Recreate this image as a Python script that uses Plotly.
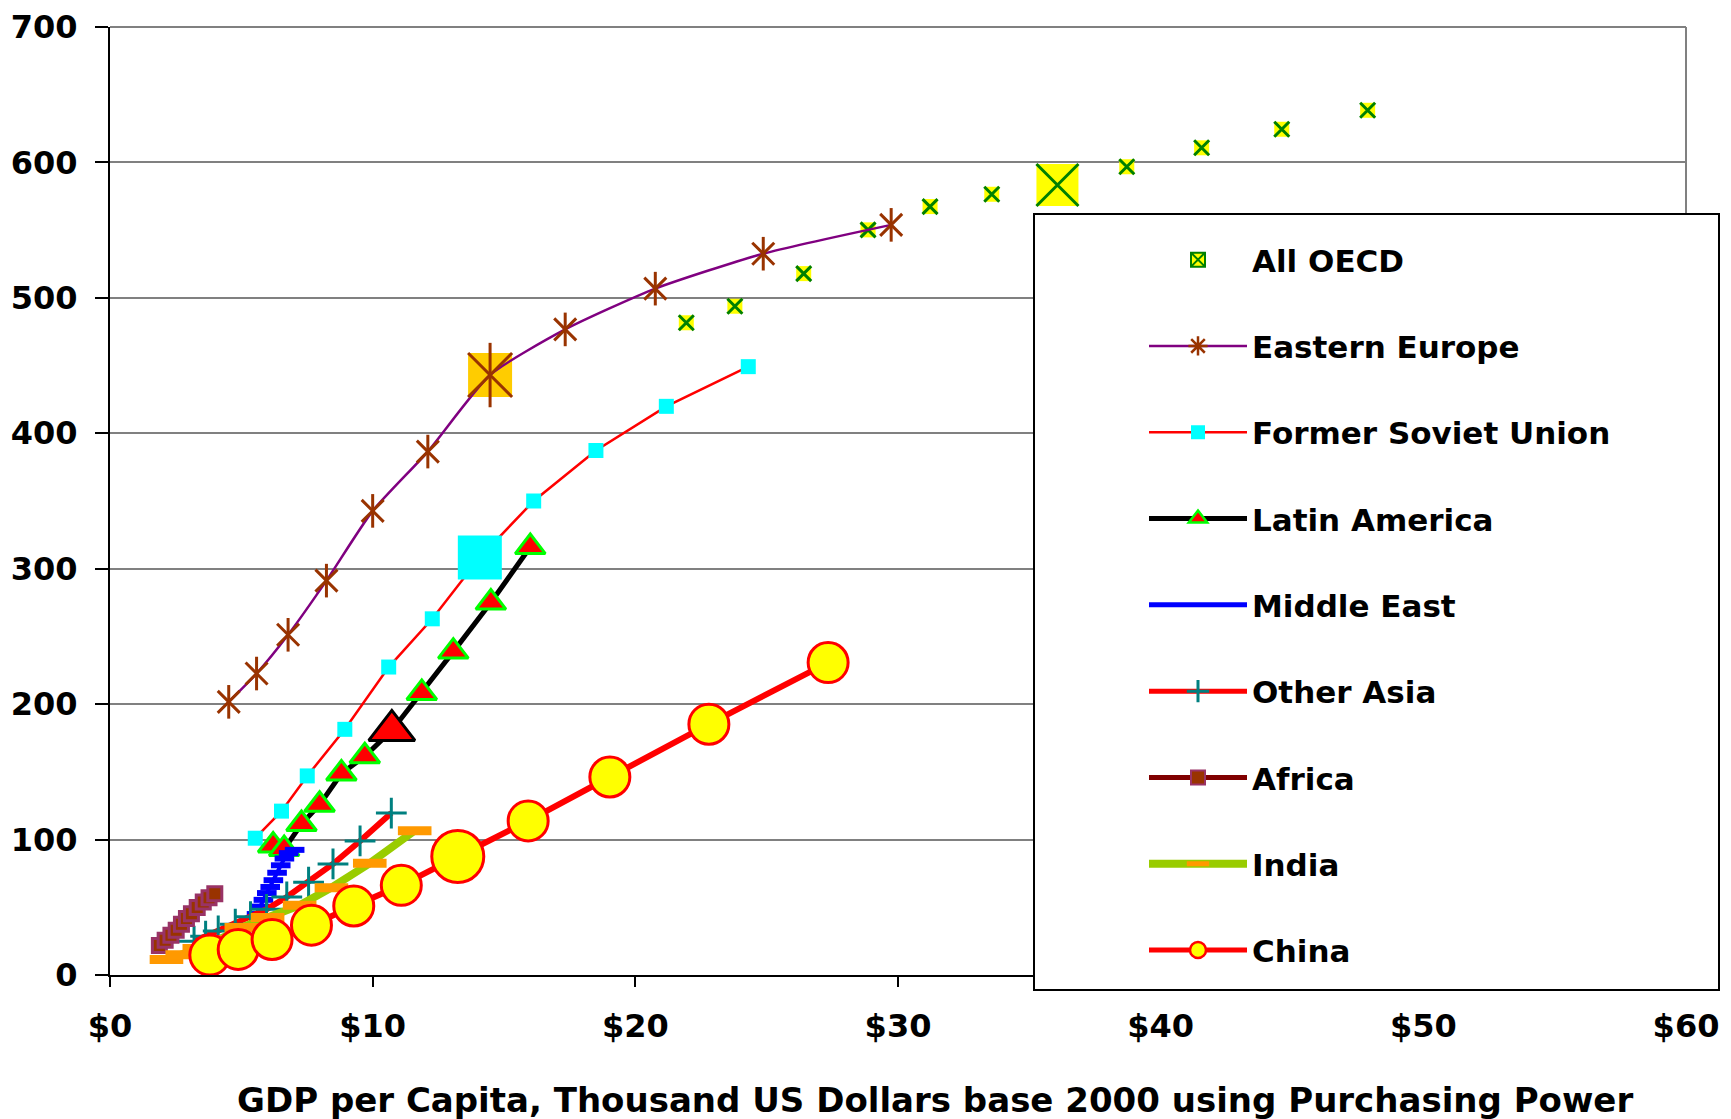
import plotly.graph_objects as go

# ---------------- data ----------------
series_names = ["All OECD", "Eastern Europe", "Former Soviet Union", "Latin America",
                "Middle East", "Other Asia", "Africa", "India", "China"]

oecd_x = [21.94, 23.79, 26.41, 28.86, 31.22, 33.57, 36.07, 38.71, 41.56, 44.61, 47.88]
oecd_y = [481.6, 493.8, 517.9, 550.2, 567.4, 576.5, 583.3, 596.8, 610.8, 624.5, 638.5]

ee_x = [4.52, 5.58, 6.78, 8.24, 10.0, 12.1, 14.47, 17.33, 20.76, 24.87, 29.74]
ee_y = [201.7, 222.6, 251.2, 291.2, 342.7, 386.5, 443.0, 476.7, 506.8, 532.6, 553.9]

fsu_x = [5.53, 6.53, 7.51, 8.94, 10.61, 12.27, 14.08, 16.13, 18.5, 21.18, 24.3]
fsu_y = [101.0, 121.0, 147.0, 181.4, 227.4, 263.0, 308.3, 350.0, 387.3, 419.9, 449.2]

la_x = [6.21, 6.63, 7.29, 7.98, 8.81, 9.70, 10.73, 11.87, 13.07, 14.5, 16.0]
la_y = [95.6, 93.0, 111.5, 125.7, 148.8, 161.5, 180.6, 208.3, 238.8, 275.0, 316.0]

me_x = [5.58, 5.70, 5.84, 5.97, 6.10, 6.22, 6.36, 6.50, 6.64, 6.80, 7.03]
me_y = [45.0, 50.5, 55.5, 60.5, 65.0, 70.0, 75.5, 81.0, 86.0, 90.0, 92.4]

oa_x = [3.2, 3.64, 4.12, 4.77, 5.35, 5.96, 6.73, 7.56, 8.49, 9.52, 10.71]
oa_y = [25.0, 28.7, 32.5, 37.5, 43.0, 48.5, 57.6, 68.5, 82.0, 99.0, 119.6]

af_x = [1.88, 2.10, 2.32, 2.52, 2.72, 2.91, 3.10, 3.32, 3.55, 3.77, 3.99]
af_y = [21.8, 25.7, 29.4, 33.0, 37.5, 41.7, 45.3, 49.8, 53.9, 57.0, 60.0]

in_x = [2.15, 2.75, 3.4, 4.15, 5.0, 6.0, 7.22, 8.43, 9.89, 11.6]
in_y = [11.5, 15.0, 19.5, 26.0, 35.0, 42.4, 51.5, 64.5, 82.5, 106.6]

cn_x = [3.8, 4.88, 6.17, 7.67, 9.28, 11.09, 13.24, 15.92, 19.03, 22.8, 27.34]
cn_y = [14.7, 18.9, 26.2, 36.8, 51.0, 66.2, 87.5, 113.8, 146.2, 185.2, 230.7]

x_tick_vals = [0, 10, 20, 30, 40, 50, 60]
x_tick_text = ["$0", "$10", "$20", "$30", "$40", "$50", "$60"]
y_tick_vals = [0, 100, 200, 300, 400, 500, 600, 700]
x_title = "GDP per Capita, Thousand US Dollars base 2000 using Purchasing Power"

# ---------------- style ----------------
HI = 6  # index of the highlighted point in each series
FONT = "DejaVu Sans, Liberation Sans, Arial, sans-serif"


def sizes(n, small, big):
    return [big if i == HI else small for i in range(n)]


fig = go.Figure()

# All OECD: yellow squares with green x
fig.add_trace(go.Scatter(x=oecd_x, y=oecd_y, mode="markers", showlegend=False,
                         legendgroup="g0", hoverinfo="skip",
                         marker=dict(symbol="square", color="#FFFF00", opacity=1,
                                     size=sizes(len(oecd_x), 15, 42), line=dict(width=0))))
fig.add_trace(go.Scatter(x=oecd_x, y=oecd_y, mode="markers", showlegend=False,
                         legendgroup="g0", name=series_names[0],
                         marker=dict(symbol="x-thin", color="#008000", opacity=1,
                                     size=sizes(len(oecd_x), 15, 42),
                                     line=dict(color="#008000", width=3))))

# Eastern Europe: purple line, brown six-armed stars, orange square behind the highlight
fig.add_trace(go.Scatter(x=[ee_x[HI]], y=[ee_y[HI]], mode="markers", showlegend=False,
                         legendgroup="g1", hoverinfo="skip",
                         marker=dict(symbol="square", color="#FFCC00", size=44, opacity=1,
                                     line=dict(width=0))))
fig.add_trace(go.Scatter(x=ee_x, y=ee_y, mode="lines+markers", showlegend=False,
                         legendgroup="g1", name=series_names[1],
                         line=dict(color="#800080", width=2.5, shape="spline", smoothing=0.6),
                         marker=dict(symbol="x-thin", color="#993300", opacity=1,
                                     size=sizes(len(ee_x), 22, 44),
                                     line=dict(color="#993300", width=3))))
fig.add_trace(go.Scatter(x=ee_x, y=ee_y, mode="markers", showlegend=False,
                         legendgroup="g1", hoverinfo="skip",
                         marker=dict(symbol="line-ns", color="#993300", opacity=1,
                                     size=sizes(len(ee_x), 24, 46),
                                     line=dict(color="#993300", width=3))))

# Former Soviet Union
fig.add_trace(go.Scatter(x=fsu_x, y=fsu_y, mode="lines+markers", showlegend=False,
                         legendgroup="g2", name=series_names[2],
                         line=dict(color="#FF0000", width=2.5),
                         marker=dict(symbol="square", color="#00FFFF", opacity=1,
                                     size=sizes(len(fsu_x), 15, 44), line=dict(width=0))))

# Latin America
fig.add_trace(go.Scatter(x=la_x, y=la_y, mode="lines+markers", showlegend=False,
                         legendgroup="g3", name=series_names[3],
                         line=dict(color="#000000", width=5),
                         marker=dict(symbol="triangle-up", color="#FF0000", opacity=1,
                                     size=sizes(len(la_x), 26, 40),
                                     line=dict(color=["#000000" if i == HI else "#00FF00"
                                                      for i in range(len(la_x))], width=3))))

# Middle East
fig.add_trace(go.Scatter(x=me_x, y=me_y, mode="lines+markers", showlegend=False,
                         legendgroup="g4", name=series_names[4],
                         line=dict(color="#0000FF", width=4),
                         marker=dict(symbol="line-ew", size=14, color="#0000FF", opacity=1,
                                     line=dict(color="#0000FF", width=6))))

# Other Asia
fig.add_trace(go.Scatter(x=oa_x, y=oa_y, mode="lines+markers", showlegend=False,
                         legendgroup="g5", name=series_names[5],
                         line=dict(color="#FF0000", width=6),
                         marker=dict(symbol="cross-thin", size=22, color="#008080", opacity=1,
                                     line=dict(color="#008080", width=3))))

# Africa
fig.add_trace(go.Scatter(x=af_x, y=af_y, mode="lines+markers", showlegend=False,
                         legendgroup="g6", name=series_names[6],
                         line=dict(color="#800000", width=5),
                         marker=dict(symbol="square", color="#993300", size=14, opacity=1,
                                     line=dict(color="#993366", width=3))))

# India
fig.add_trace(go.Scatter(x=in_x, y=in_y, mode="lines+markers", showlegend=False,
                         legendgroup="g7", name=series_names[7],
                         line=dict(color="#99CC00", width=8),
                         marker=dict(symbol="line-ew", size=24, color="#FF9900", opacity=1,
                                     line=dict(color="#FF9900", width=9))))

# China
fig.add_trace(go.Scatter(x=cn_x, y=cn_y, mode="lines+markers", showlegend=False,
                         legendgroup="g8", name=series_names[8],
                         line=dict(color="#FF0000", width=6),
                         marker=dict(symbol="circle", color="#FFFF00", opacity=1,
                                     size=sizes(len(cn_x), 40, 52),
                                     line=dict(color="#FF0000", width=3))))

# ---------------- legend entries ----------------
legend_styles = [
    dict(mode="markers", marker=dict(symbol="square-x", color="#FFFF00", size=14,
                                     line=dict(color="#008000", width=2))),
    dict(mode="lines+markers", line=dict(color="#800080", width=2.5),
         marker=dict(symbol="asterisk-open", color="#993300", size=16,
                     line=dict(color="#993300", width=2.5))),
    dict(mode="lines+markers", line=dict(color="#FF0000", width=2.5),
         marker=dict(symbol="square", color="#00FFFF", size=14, line=dict(width=0))),
    dict(mode="lines+markers", line=dict(color="#000000", width=5),
         marker=dict(symbol="triangle-up", color="#FF0000", size=16,
                     line=dict(color="#00FF00", width=2.5))),
    dict(mode="lines", line=dict(color="#0000FF", width=5)),
    dict(mode="lines+markers", line=dict(color="#FF0000", width=5),
         marker=dict(symbol="cross-thin", color="#008080", size=16,
                     line=dict(color="#008080", width=3))),
    dict(mode="lines+markers", line=dict(color="#800000", width=5),
         marker=dict(symbol="square", color="#993300", size=14,
                     line=dict(color="#993366", width=2))),
    dict(mode="lines+markers", line=dict(color="#99CC00", width=8),
         marker=dict(symbol="line-ew", color="#FF9900", size=16,
                     line=dict(color="#FF9900", width=5))),
    dict(mode="lines+markers", line=dict(color="#FF0000", width=5),
         marker=dict(symbol="circle", color="#FFFF00", size=16,
                     line=dict(color="#FF0000", width=2.5))),
]
for i, (nm, st) in enumerate(zip(series_names, legend_styles)):
    fig.add_trace(go.Scatter(x=[None], y=[None], name=nm, legendgroup=f"g{i}",
                             showlegend=True, legendrank=i + 1, **st))

# ---------------- layout ----------------
# the page body adds an 8px margin; the figure is sized to fit inside the window
W, H = 1723, 1111
ML, MR, MT, MB = 102, 45, 19, 144
pw, ph = W - ML - MR, H - MT - MB


def px_x(p):
    return (p - ML) / pw


def px_y(p):
    return (H - MB - p) / ph


fig.update_layout(
    width=W, height=H,
    margin=dict(l=ML, r=MR, t=MT, b=MB, pad=0, autoexpand=False),
    paper_bgcolor="white", plot_bgcolor="white",
    font=dict(family=FONT, size=32, color="black", weight="bold"),
    xaxis=dict(range=[0, 60], tickvals=x_tick_vals, ticktext=x_tick_text,
               showgrid=False, zeroline=False, showline=True, linecolor="black",
               linewidth=2, ticks="outside", ticklen=10, tickwidth=2, tickcolor="black",
               ticklabelstandoff=12, automargin=False, ticklabeloverflow="allow",
               tickfont=dict(family=FONT, size=32, weight="bold")),
    yaxis=dict(range=[0, 700], tickvals=y_tick_vals, showgrid=True,
               gridcolor="#808080", gridwidth=2, zeroline=False, showline=True,
               linecolor="black", linewidth=2, ticks="outside", ticklen=13, tickwidth=2,
               tickcolor="black", ticklabelstandoff=11, automargin=False,
               ticklabeloverflow="allow",
               tickfont=dict(family=FONT, size=32, weight="bold")),
    legend=dict(x=px_x(1136), y=px_y(225), xanchor="left", yanchor="top",
                bgcolor="rgba(0,0,0,0)", borderwidth=0,
                traceorder="grouped", tracegroupgap=43, itemwidth=98,
                font=dict(family=FONT, size=31, weight="bold", color="black")),
    showlegend=True,
    shapes=[
        # top and right border of plot area
        dict(type="line", xref="paper", yref="paper", x0=0, x1=1, y0=1, y1=1,
             line=dict(color="#808080", width=2), layer="below"),
        dict(type="line", xref="paper", yref="paper", x0=1, x1=1, y0=0, y1=1,
             line=dict(color="#808080", width=2), layer="below"),
        # legend box
        dict(type="rect", xref="paper", yref="paper",
             x0=px_x(1026), x1=px_x(1711), y0=px_y(982), y1=px_y(206),
             fillcolor="white", line=dict(color="black", width=2), layer="above"),
    ],
    annotations=[
        dict(text=x_title, xref="paper", yref="paper", x=px_x(927), y=px_y(1092),
             xanchor="center", yanchor="middle", showarrow=False,
             font=dict(family=FONT, size=34, weight="bold", color="black")),
    ],
)

fig.write_html("out.html")
